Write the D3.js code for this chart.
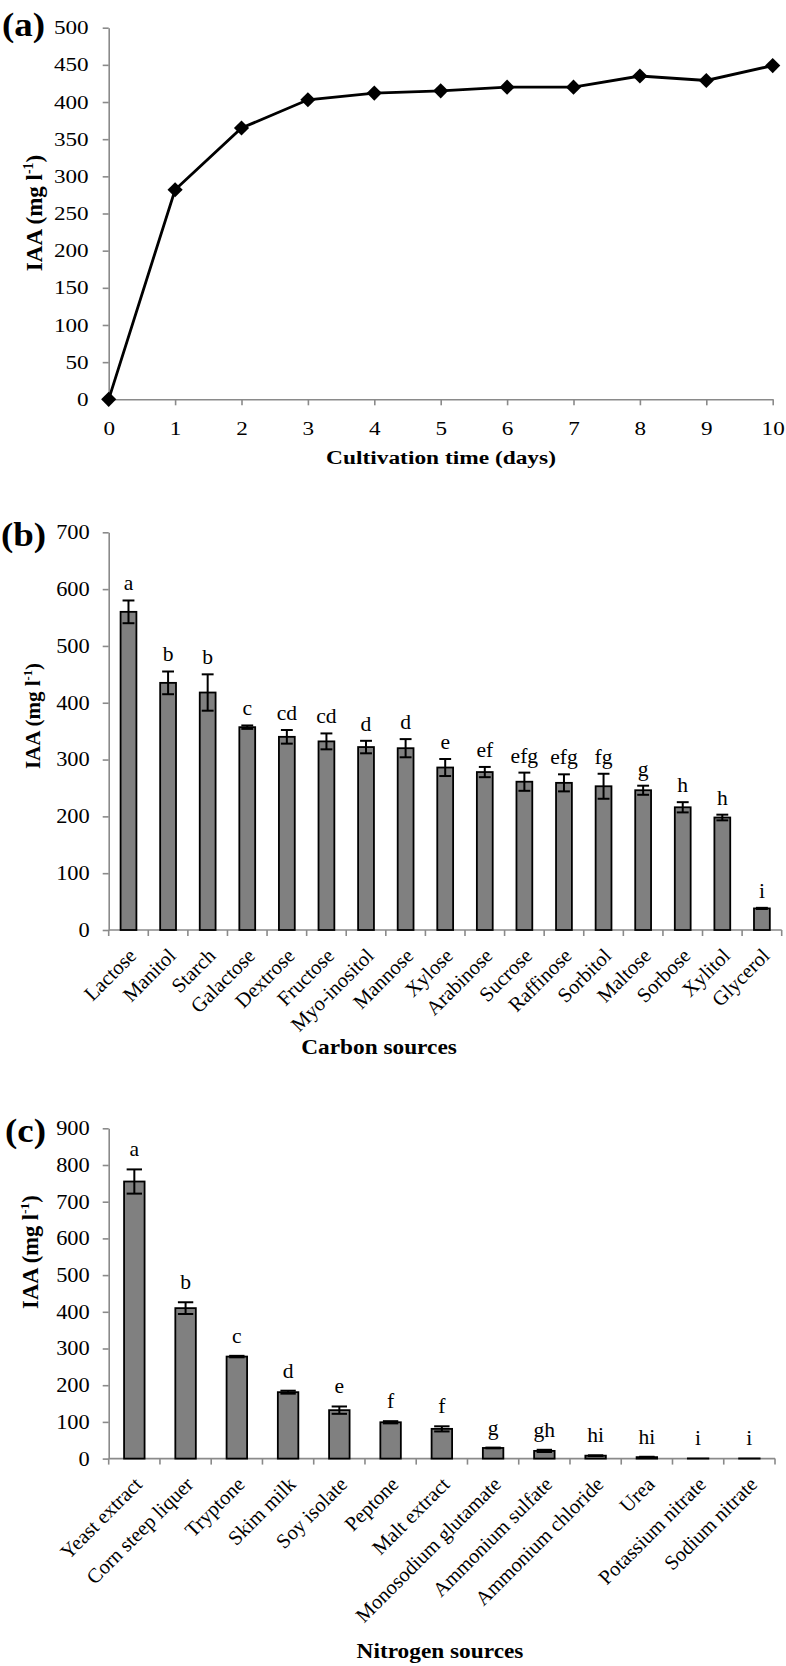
<!DOCTYPE html>
<html><head><meta charset="utf-8">
<script src="https://cdn.jsdelivr.net/npm/d3@7"></script>
<style>
html,body{margin:0;padding:0;background:#fff;}
svg{display:block;}
svg text{font-family:"Liberation Serif","Times New Roman",serif;}
</style></head>
<body>
<svg id="chart" width="786" height="1666"></svg>
<script>
// ---- Panel (a) data ----
const daysA = [0,1,2,3,4,5,6,7,8,9,10];
const iaaA  = [0,282,365,403,412,415,420,420,435,429,449];
const yTicksA = [0,50,100,150,200,250,300,350,400,450,500];

// ---- Panel (b) data ----
const carbonSources = ["Lactose","Manitol","Starch","Galactose","Dextrose","Fructose","Myo-inositol","Mannose","Xylose","Arabinose","Sucrose","Raffinose","Sorbitol","Maltose","Sorbose","Xylitol","Glycerol"];
const carbonIAA   = [560,435,418,357,340,332,322,320,286,278,261,259,253,246,216,198,38];
const carbonErr   = [20,20,32,3,12,14,11,16,15,9,16,15,22,8,9,5,1];
const carbonLetters = ["a","b","b","c","cd","cd","d","d","e","ef","efg","efg","fg","g","h","h","i"];
const yTicksB = [0,100,200,300,400,500,600,700];

// ---- Panel (c) data ----
const nitrogenSources = ["Yeast extract","Corn steep liquer","Tryptone","Skim milk","Soy isolate","Peptone","Malt extract","Monosodium glutamate","Ammonium sulfate","Ammonium chloride","Urea","Potassium nitrate","Sodium nitrate"];
const nitrogenIAA = [755,410,278,181,132,99,81,29,21,8,4,0.5,0.5];
const nitrogenErr = [33,16,2,4,10,3,7,1,3,1,1,0,0];
const nitrogenLetters = ["a","b","c","d","e","f","f","g","gh","hi","hi","i","i"];
const yTicksC = [0,100,200,300,400,500,600,700,800,900];

const FONT = "Liberation Serif";
const svg = d3.select("#chart");
svg.append("rect").attr("width",786).attr("height",1666).attr("fill","#fff");
const AXIS = "#8a8a8a";

// horizontally stretched text (the source figure's text is slightly widened)
function sText(x, y, str, size, sx, opts={}){
  const t = svg.append("text").attr("transform",`translate(${x},${y}) scale(${sx},1)`)
    .attr("font-family",FONT).attr("font-size",size).attr("fill","#000")
    .attr("text-anchor",opts.anchor||"start").attr("font-weight",opts.bold?"bold":"normal").text(str);
  return t;
}
function yTitle(x, y, size){
  const t = svg.append("text").attr("transform",`translate(${x},${y}) rotate(-90)`)
    .attr("text-anchor","middle").attr("font-family",FONT).attr("font-weight","bold").attr("font-size",size).attr("fill","#000");
  t.append("tspan").text("IAA (mg l");
  t.append("tspan").attr("font-size",size*0.6).attr("dy",-size*0.38).text("-1");
  t.append("tspan").attr("dy",size*0.38).text(")");
}
function styleYAxis(g, size, sx, gap){
  g.attr("font-family",FONT).attr("font-size",size);
  g.selectAll(".domain").attr("stroke",AXIS).attr("stroke-width",1.6);
  g.selectAll(".tick line").attr("stroke",AXIS).attr("stroke-width",1.6);
  g.selectAll(".tick text").attr("fill","#000").attr("font-family",FONT).attr("font-size",size)
    .attr("x",-gap/sx).attr("transform",`scale(${sx},1)`);
}

// ================= Panel (a) =================
{
  const x = d3.scaleLinear().domain([0,10]).range([108.7,772.7]);
  const y = d3.scaleLinear().domain([0,500]).range([399.3,27.7]);
  const gy = svg.append("g").attr("transform",`translate(${x(0)},0)`)
    .call(d3.axisLeft(y).tickValues(yTicksA).tickSize(6).tickSizeOuter(0));
  styleYAxis(gy, 19, 1.22, 20);
  const gx = svg.append("g").attr("transform",`translate(0,${y(0)})`)
    .call(d3.axisBottom(x).tickValues(daysA).tickSize(6).tickSizeOuter(0));
  gx.attr("font-family",FONT);
  gx.selectAll(".domain").attr("stroke",AXIS).attr("stroke-width",1.6);
  gx.selectAll(".tick line").attr("stroke",AXIS).attr("stroke-width",1.6);
  gx.selectAll(".tick text").attr("fill","#000").attr("font-family",FONT).attr("font-size",19)
    .attr("y",36).attr("dy",0).attr("transform","scale(1.22,1)");

  const pts = daysA.map((d,i)=>[x(d),y(iaaA[i])]);
  svg.append("path").attr("d",d3.line()(pts)).attr("fill","none").attr("stroke","#000").attr("stroke-width",2.8);
  svg.selectAll(".dia").data(pts).join("path")
    .attr("transform",d=>`translate(${d[0]},${d[1]}) rotate(45)`)
    .attr("d",d3.symbol(d3.symbolSquare,115)).attr("fill","#000");

  yTitle(42, 213, 23);
  sText(441, 464, "Cultivation time (days)", 19.5, 1.2, {anchor:"middle", bold:true});
  sText(2, 36, "(a)", 33, 1.12, {bold:true});
}

// ================= bar panel helper =================
function barPanel(opt){
  const {cats, vals, errs, letters, ticks, yDom, yRange, xRange} = opt;
  const x = d3.scaleBand().domain(cats).range(xRange).paddingInner(0.6).paddingOuter(0.3);
  const y = d3.scaleLinear().domain(yDom).range(yRange);
  const y0 = y(0);
  const gy = svg.append("g").attr("transform",`translate(${xRange[0]},0)`)
    .call(d3.axisLeft(y).tickValues(ticks).tickSize(6).tickSizeOuter(0));
  styleYAxis(gy, opt.tickSize, 1.12, 19);

  // x axis line and boundary ticks
  const gx = svg.append("g");
  gx.append("line").attr("x1",xRange[0]).attr("x2",xRange[1]).attr("y1",y0).attr("y2",y0)
    .attr("stroke",AXIS).attr("stroke-width",1.6);
  const bounds = d3.range(cats.length+1).map(i=>xRange[0]+i*x.step());
  gx.selectAll(".bt").data(bounds).join("line")
    .attr("x1",d=>d).attr("x2",d=>d).attr("y1",y0).attr("y2",y0+6)
    .attr("stroke",AXIS).attr("stroke-width",1.6);

  // bars
  svg.selectAll(null).data(cats).join("rect")
    .attr("x",d=>x(d)).attr("width",x.bandwidth())
    .attr("y",(d,i)=>y(vals[i])).attr("height",(d,i)=>y0-y(vals[i]))
    .attr("fill","#808080").attr("stroke","#000").attr("stroke-width",1.8);

  // error bars
  const cap = x.bandwidth()*0.75;
  const eg = svg.append("g").attr("stroke","#000").attr("stroke-width",2);
  cats.forEach((c,i)=>{
    if(errs[i] <= 0) return;
    const cx = x(c)+x.bandwidth()/2;
    const hi = y(vals[i]+errs[i]), lo = y(vals[i]-errs[i]);
    eg.append("line").attr("x1",cx).attr("x2",cx).attr("y1",hi).attr("y2",lo);
    eg.append("line").attr("x1",cx-cap/2).attr("x2",cx+cap/2).attr("y1",hi).attr("y2",hi);
    eg.append("line").attr("x1",cx-cap/2).attr("x2",cx+cap/2).attr("y1",lo).attr("y2",lo);
  });

  // significance letters
  svg.selectAll(null).data(cats).join("text")
    .attr("transform",(d,i)=>`translate(${x(d)+x.bandwidth()/2},${y(vals[i]+errs[i]) - opt.letterGap}) scale(1.08,1)`)
    .attr("text-anchor","middle").attr("font-family",FONT).attr("font-size",20).text((d,i)=>letters[i]);

  // category labels
  svg.selectAll(null).data(cats).join("text")
    .attr("transform",d=>`translate(${x(d)+x.bandwidth()/2+9},${y0+27}) rotate(-45)`)
    .attr("text-anchor","end").attr("font-family",FONT).attr("font-size",20.5).text(d=>d);

  yTitle(opt.ytPos[0], opt.ytPos[1], opt.ytSize);
  sText(opt.xTitlePos[0], opt.xTitlePos[1], opt.xTitle, 22, 1.06, {anchor:"middle", bold:true});
  sText(opt.labelPos[0], opt.labelPos[1], opt.label, 33, 1.12, {bold:true});
}

barPanel({cats:carbonSources, vals:carbonIAA, errs:carbonErr, letters:carbonLetters,
  ticks:yTicksB, yDom:[0,700], yRange:[930,532.3], xRange:[108.7,781.7], tickSize:20,
  ytPos:[40,716], ytSize:21, xTitle:"Carbon sources", xTitlePos:[379,1054], label:"(b)", labelPos:[1,546], letterGap:10});

barPanel({cats:nitrogenSources, vals:nitrogenIAA, errs:nitrogenErr, letters:nitrogenLetters,
  ticks:yTicksC, yDom:[0,900], yRange:[1458.6,1128.3], xRange:[108.7,775], tickSize:20,
  ytPos:[38,1252], ytSize:22.5, xTitle:"Nitrogen sources", xTitlePos:[440,1658], label:"(c)", labelPos:[5,1142], letterGap:13});
</script>
</body></html>
